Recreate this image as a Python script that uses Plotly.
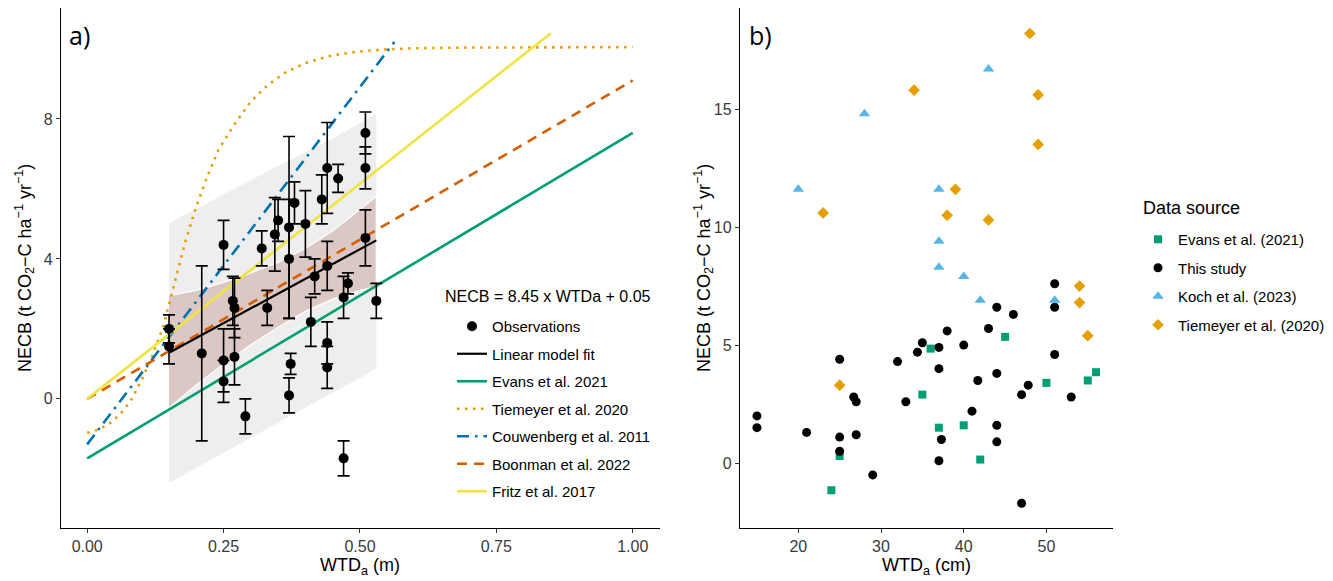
import plotly.graph_objects as go

# ---------------- Panel a: observations (WTDa in m) ----------------
obs_wtd_m = [0.15, 0.15, 0.21, 0.25, 0.25, 0.25, 0.267, 0.27, 0.27, 0.29, 0.32, 0.33,
             0.344, 0.35, 0.37, 0.37, 0.373, 0.37, 0.38, 0.40, 0.41, 0.417, 0.43, 0.44,
             0.44, 0.44, 0.44, 0.46, 0.47, 0.47, 0.478, 0.51, 0.51, 0.51, 0.53]
obs_necb = [2.0, 1.5, 1.3, 4.4, 1.1, 0.5, 2.8, 2.6, 1.2, -0.5, 4.3, 2.6,
            4.7, 5.1, 4.9, 4.0, 1.0, 0.1, 5.6, 5.0, 2.2, 3.5, 5.7, 6.6,
            3.8, 1.6, 0.9, 6.3, 2.9, -1.7, 3.3, 7.6, 6.6, 4.6, 2.8]
obs_se = [0.4, 0.5, 2.5, 0.7, 0.9, 0.6, 0.7, 0.85, 0.8, 0.5, 0.5, 0.5,
          1.05, 0.6, 2.6, 1.7, 0.3, 0.5, 0.6, 0.95, 0.7, 0.5, 0.7, 1.3,
          0.7, 0.6, 0.6, 0.4, 0.6, 0.5, 0.3, 0.6, 0.6, 0.8, 0.5]

# linear model fit and its bands
fit_x = [0.15, 0.53]
fit_y = [1.32, 4.53]
band_x = [0.15, 0.20, 0.25, 0.30, 0.35, 0.40, 0.45, 0.50, 0.53]
conf_lo = [-0.25, 0.40, 1.00, 1.55, 2.05, 2.50, 2.85, 3.10, 3.20]
conf_hi = [2.95, 3.10, 3.33, 3.60, 3.90, 4.30, 4.80, 5.40, 5.78]
pred_lo = [-2.40, -1.95, -1.52, -1.10, -0.68, -0.25, 0.18, 0.60, 0.88]
pred_hi = [5.02, 5.42, 5.84, 6.25, 6.65, 7.05, 7.45, 7.88, 8.15]

# published relationships
evans_x = [0.0, 1.0]
evans_y = [-1.7, 7.6]
tiem_x = [0.0, 0.02, 0.04, 0.06, 0.08, 0.10, 0.12, 0.14, 0.16, 0.18, 0.20, 0.22, 0.24,
          0.27, 0.30, 0.33, 0.36, 0.40, 0.45, 0.50, 0.55, 0.60, 0.70, 0.80, 0.90, 1.00]
tiem_y = [-0.97, -0.88, -0.72, -0.45, -0.05, 0.55, 1.25, 2.1, 3.3, 4.5, 5.5, 6.35, 7.1,
          7.85, 8.5, 8.95, 9.3, 9.6, 9.82, 9.93, 9.99, 10.02, 10.04, 10.05, 10.05, 10.05]
couw_x = [0.0, 0.563]
couw_y = [-1.3, 10.2]
boon_x = [0.0, 1.0]
boon_y = [0.0, 9.1]
fritz_x = [0.0, 0.85]
fritz_y = [0.0, 10.45]

# ---------------- Panel b: data sources (WTDa in cm) ----------------
evans_b_x = [24, 25, 35, 36, 37, 40, 42, 45, 50, 55, 56]
evans_b_y = [-1.15, 0.3, 2.9, 4.85, 1.5, 1.6, 0.15, 5.35, 3.4, 3.5, 3.85]
study_b_x = [round(v * 100, 1) for v in obs_wtd_m]
study_b_y = obs_necb
koch_b_x = [20, 28, 37, 37, 37, 40, 42, 43, 51]
koch_b_y = [11.6, 14.8, 11.6, 9.4, 8.3, 7.9, 6.9, 16.7, 6.9]
tiem_b_x = [23, 25, 34, 38, 39, 43, 48, 49, 49, 54, 54, 55]
tiem_b_y = [10.6, 3.3, 15.8, 10.5, 11.6, 10.3, 18.2, 15.6, 13.5, 7.5, 6.8, 5.4]

FONT = "Liberation Sans, Arial, sans-serif"
GREEN, ORANGE, BLUE, VERM, YELLOW, SKY = "#009E73", "#E69F00", "#0072B2", "#D55E00", "#F0E442", "#56B4E9"

fig = go.Figure()

# bands
fig.add_trace(go.Scatter(x=band_x + band_x[::-1], y=pred_hi + pred_lo[::-1], fill="toself",
                         fillcolor="rgb(238,238,238)", line=dict(width=0), mode="lines",
                         hoverinfo="skip", showlegend=False, xaxis="x", yaxis="y"))
fig.add_trace(go.Scatter(x=band_x + band_x[::-1], y=conf_hi + conf_lo[::-1], fill="toself",
                         fillcolor="rgb(219,199,196)", line=dict(width=1.2, color="white"), mode="lines",
                         hoverinfo="skip", showlegend=False, xaxis="x", yaxis="y"))

lw = 2.6
ref_lines = [
    ("Evans et al. 2021", evans_x, evans_y, GREEN, "solid", 3),
    ("Tiemeyer et al. 2020", tiem_x, tiem_y, ORANGE, "2.5px,5.5px", 4),
    ("Couwenberg et al. 2011", couw_x, couw_y, BLUE, "12px,6px,2.5px,6px", 5),
    ("Boonman et al. 2022", boon_x, boon_y, VERM, "10px,7px", 6),
    ("Fritz et al. 2017", fritz_x, fritz_y, YELLOW, "solid", 7),
]
for name, xs, ys, col, dash, rank in ref_lines:
    fig.add_trace(go.Scatter(x=xs, y=ys, mode="lines", name=name, legend="legend",
                             legendgroup=name, legendrank=rank,
                             line=dict(color=col, width=lw, dash=dash),
                             xaxis="x", yaxis="y"))

fig.add_trace(go.Scatter(x=fit_x, y=fit_y, mode="lines", name="Linear model fit", legend="legend",
                         legendgroup="fit", legendrank=2,
                         line=dict(color="black", width=2.2), xaxis="x", yaxis="y"))
fig.add_trace(go.Scatter(x=obs_wtd_m, y=obs_necb, mode="markers", name="Observations", legend="legend",
                         legendgroup="obs", legendrank=1,
                         marker=dict(color="black", size=10),
                         error_y=dict(type="data", array=obs_se, color="black", thickness=1.6, width=6),
                         xaxis="x", yaxis="y"))

# panel b points
pts = [
    ("Evans et al. (2021)", evans_b_x, evans_b_y, GREEN, "square", 8, 1),
    ("This study", study_b_x, study_b_y, "black", "circle", 9, 2),
    ("Koch et al. (2023)", koch_b_x, koch_b_y, SKY, "triangle-up", 10, 3),
    ("Tiemeyer et al. (2020)", tiem_b_x, tiem_b_y, ORANGE, "diamond", 9, 4),
]
for name, xs, ys, col, sym, sz, rank in pts:
    fig.add_trace(go.Scatter(x=xs, y=ys, mode="markers", name=name, legend="legend2",
                             legendgroup="b" + name, legendrank=rank,
                             marker=dict(color=col, symbol=sym, size=sz, line=dict(width=0)),
                             xaxis="x2", yaxis="y2"))

W, H = 1333, 581
ydom = [53 / H, 573 / H]
axis_common = dict(showline=True, linecolor="black", linewidth=1.3, ticks="outside", ticklen=4,
                   tickwidth=1.1, tickcolor="#333333", showgrid=False, zeroline=False,
                   tickfont=dict(family=FONT, size=16, color="#3a3a3a"), mirror=False)

fig.update_layout(
    width=W, height=H, margin=dict(l=0, r=0, t=0, b=0),
    paper_bgcolor="white", plot_bgcolor="white",
    font=dict(family=FONT, color="black"),
    xaxis=dict(domain=[61 / W, 660 / W], range=[-0.048, 1.05], tickvals=[0, 0.25, 0.5, 0.75, 1.0],
               ticktext=["0.00", "0.25", "0.50", "0.75", "1.00"], anchor="y", **axis_common),
    yaxis=dict(domain=ydom, range=[-3.69, 11.17], tickvals=[0, 4, 8], anchor="x", **axis_common),
    xaxis2=dict(domain=[740 / W, 1113 / W], range=[12.95, 58.05], tickvals=[20, 30, 40, 50],
                anchor="y2", **axis_common),
    yaxis2=dict(domain=ydom, range=[-2.75, 19.28], tickvals=[0, 5, 10, 15], anchor="x2", **axis_common),
    legend=dict(x=452 / W, y=(H - 310) / H, xanchor="left", yanchor="top", bgcolor="rgba(0,0,0,0)",
                font=dict(family=FONT, size=15, color="black"), traceorder="grouped",
                tracegroupgap=5, itemwidth=30),
    legend2=dict(x=1138 / W, y=(H - 223) / H, xanchor="left", yanchor="top", bgcolor="rgba(0,0,0,0)",
                 font=dict(family=FONT, size=15, color="black"), traceorder="grouped",
                 tracegroupgap=6, itemwidth=30),
)

ann = [
    dict(text="a)", x=67 / W, y=(H - 35) / H, xanchor="left", yanchor="middle",
         font=dict(family="Open Sans, sans-serif", size=25, color="black")),
    dict(text="b)", x=747 / W, y=(H - 35) / H, xanchor="left", yanchor="middle",
         font=dict(family="Open Sans, sans-serif", size=25, color="black")),
    dict(text="NECB = 8.45 x WTDa + 0.05", x=443 / W, y=(H - 296) / H, xanchor="left", yanchor="middle",
         font=dict(family=FONT, size=16, color="black")),
    dict(text="Data source", x=1141 / W, y=(H - 208) / H, xanchor="left", yanchor="middle",
         font=dict(family=FONT, size=18, color="black")),
    dict(text="WTD<sub>a</sub> (m)", x=360 / W, y=(H - 566) / H, xanchor="center", yanchor="middle",
         font=dict(family=FONT, size=18, color="black")),
    dict(text="WTD<sub>a</sub> (cm)", x=926 / W, y=(H - 566) / H, xanchor="center", yanchor="middle",
         font=dict(family=FONT, size=18, color="black")),
    dict(text="NECB (t CO<sub>2</sub>\u2212C ha<sup>\u22121</sup> yr<sup>\u22121</sup>)", x=24 / W, y=(H - 268) / H,
         xanchor="center", yanchor="middle", textangle=-90, font=dict(family=FONT, size=18, color="black")),
    dict(text="NECB (t CO<sub>2</sub>\u2212C ha<sup>\u22121</sup> yr<sup>\u22121</sup>)", x=703 / W, y=(H - 268) / H,
         xanchor="center", yanchor="middle", textangle=-90, font=dict(family=FONT, size=18, color="black")),
]
for a in ann:
    a.update(xref="paper", yref="paper", showarrow=False)
    fig.add_annotation(**a)

fig.write_html("out.html", config={"displayModeBar": False},
               post_script="document.body.style.margin='0px';document.body.style.overflow='hidden';")
